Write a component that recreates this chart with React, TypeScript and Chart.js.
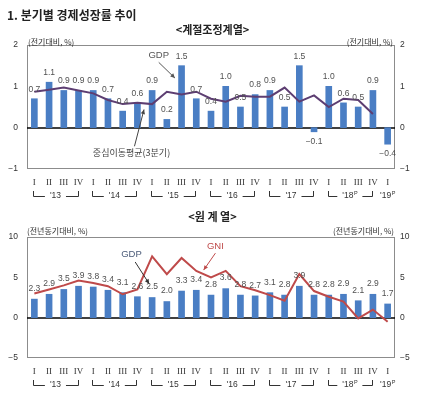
import React, { useEffect, useRef } from 'react';
import { Chart, registerables } from 'chart.js';
Chart.register(...registerables);

const quarterLabels = ['I','II','III','IV','I','II','III','IV','I','II','III','IV','I','II','III','IV','I','II','III','IV','I','II','III','IV','I'];
const yearLabels = ["'13", "'14", "'15", "'16", "'17", "'18", "'19"];
const yearSup = ['', '', '', '', '', 'P', 'P'];

// 계절조정계열 (전기대비, %)
const saGdp = [0.7, 1.1, 0.9, 0.9, 0.9, 0.7, 0.4, 0.6, 0.9, 0.2, 1.5, 0.7, 0.4, 1.0, 0.5, 0.8, 0.9, 0.5, 1.5, -0.1, 1.0, 0.6, 0.5, 0.9, -0.4];
const saMovingAvg = [0.87, 0.92, 0.97, 0.9, 0.83, 0.67, 0.57, 0.6, 0.57, 0.87, 0.8, 0.87, 0.7, 0.63, 0.77, 0.75, 0.75, 0.97, 0.63, 0.78, 0.5, 0.7, 0.67, 0.33, null];
// 원계열 (전년동기대비, %)
const yoyGdp = [2.3, 2.9, 3.5, 3.9, 3.8, 3.4, 3.1, 2.6, 2.5, 2.0, 3.3, 3.4, 2.8, 3.6, 2.8, 2.7, 3.1, 2.8, 3.9, 2.8, 2.8, 2.9, 2.1, 2.9, 1.7];
const yoyGni = [3.0, 3.5, 4.0, 4.6, 4.3, 3.9, 2.9, 3.5, 7.6, 5.4, 7.4, 5.8, 5.0, 5.8, 3.9, 3.4, 2.8, 2.1, 5.4, 3.3, 2.6, 2.0, -0.1, 1.0, -0.5];

const SANS = '"Liberation Sans", Arial, sans-serif';
const KR = '"Noto Sans CJK KR", sans-serif';
const fmt = (v: number) => v.toFixed(1).replace('-', '\u2212');

const framePlugin = {
  id: 'frame',
  beforeDatasetsDraw(chart: any) {
    const { ctx, chartArea: a, scales } = chart;
    ctx.save();
    ctx.strokeStyle = '#8c8c8c';
    ctx.lineWidth = 1;
    ctx.strokeRect(Math.round(a.left) + 0.5, Math.round(a.top) + 0.5, Math.round(a.width) - 1, Math.round(a.height) - 1);
    const y0 = Math.round(scales.y.getPixelForValue(0));
    ctx.strokeStyle = '#000';
    ctx.lineWidth = 1.3;
    ctx.beginPath();
    ctx.moveTo(a.left, y0);
    ctx.lineTo(a.right, y0);
    ctx.stroke();
    ctx.restore();
  },
};

const labelPlugin = {
  id: 'barLabels',
  afterDatasetsDraw(chart: any, _args: any, opts: any) {
    const { ctx } = chart;
    ctx.save();
    ctx.font = `8.5px ${SANS}`;
    ctx.fillStyle = '#505050';
    ctx.textAlign = 'center';
    ctx.textBaseline = 'middle';
    chart.data.datasets.forEach((ds: any, di: number) => {
      if (ds.type !== 'bar') return;
      const meta = chart.getDatasetMeta(di);
      meta.data.forEach((el: any, i: number) => {
        const v = ds.data[i];
        const y = v >= 0 ? el.y - opts.above : el.y + opts.below;
        ctx.fillText(fmt(v), el.x, y);
      });
    });
    ctx.restore();
  },
};

const yearPlugin = {
  id: 'years',
  afterDraw(chart: any, _args: any, opts: any) {
    const { ctx, scales } = chart;
    const x = scales.x;
    const yLine = opts.y;
    ctx.save();
    ctx.strokeStyle = '#333';
    ctx.fillStyle = '#333';
    ctx.lineWidth = 1;
    ctx.font = `8.5px ${SANS}`;
    ctx.textBaseline = 'middle';
    ctx.textAlign = 'center';
    yearLabels.forEach((lab, yi) => {
      const i0 = yi * 4;
      const i1 = Math.min(yi * 4 + 3, quarterLabels.length - 1);
      const xl = x.getPixelForValue(i0) - 1;
      const xr = x.getPixelForValue(i1) - 1;
      const cx = (xl + xr) / 2 + (i1 === i0 ? 1 : 0);
      const tw = ctx.measureText(lab).width + (yearSup[yi] ? 4 : 0);
      if (i1 > i0) {
        const gap = tw / 2 + 5;
        ctx.beginPath();
        ctx.moveTo(Math.round(xl) + 0.5, yLine - 5);
        ctx.lineTo(Math.round(xl) + 0.5, yLine + 0.5);
        ctx.lineTo(cx - gap, yLine + 0.5);
        ctx.moveTo(cx + gap, yLine + 0.5);
        ctx.lineTo(Math.round(xr) + 0.5, yLine + 0.5);
        ctx.lineTo(Math.round(xr) + 0.5, yLine - 5);
        ctx.stroke();
      }
      const tx = cx - (yearSup[yi] ? 2 : 0);
      ctx.font = `8.5px ${SANS}`;
      ctx.fillText(lab, tx, yLine);
      if (yearSup[yi]) {
        const w = ctx.measureText(lab).width;
        ctx.font = `5.5px ${SANS}`;
        ctx.textAlign = 'left';
        ctx.fillText(yearSup[yi], tx + w / 2 + 0.5, yLine - 3);
        ctx.textAlign = 'center';
      }
    });
    ctx.restore();
  },
};

function drawArrow(ctx: any, x1: number, y1: number, x2: number, y2: number, color: string, head: boolean) {
  ctx.strokeStyle = color;
  ctx.fillStyle = color;
  ctx.lineWidth = 1;
  ctx.beginPath();
  ctx.moveTo(x1, y1);
  ctx.lineTo(x2, y2);
  ctx.stroke();
  if (head) {
    const ang = Math.atan2(y2 - y1, x2 - x1);
    const L = 5;
    ctx.beginPath();
    ctx.moveTo(x2, y2);
    ctx.lineTo(x2 - L * Math.cos(ang - 0.45), y2 - L * Math.sin(ang - 0.45));
    ctx.lineTo(x2 - L * Math.cos(ang + 0.45), y2 - L * Math.sin(ang + 0.45));
    ctx.closePath();
    ctx.fill();
  }
}

const notePlugin = {
  id: 'notes',
  afterDatasetsDraw(chart: any, _args: any, opts: any) {
    const { ctx, scales } = chart;
    const px = (i: number) => scales.x.getPixelForValue(0) + i * (scales.x.getPixelForValue(1) - scales.x.getPixelForValue(0));
    const py = (v: number) => scales.y.getPixelForValue(v);
    ctx.save();
    (opts.items || []).forEach((n: any) => {
      ctx.font = `${n.size}px ${n.font}`;
      ctx.fillStyle = n.color;
      ctx.textAlign = 'center';
      ctx.textBaseline = 'middle';
      ctx.fillText(n.text, px(n.x), py(n.y));
      if (n.arrow) {
        const [a, b, c, d] = n.arrow;
        drawArrow(ctx, px(a), py(b), px(c), py(d), n.arrowColor || n.color, true);
      }
    });
    ctx.restore();
  },
};

function axisCommon(min: number, max: number, step: number, pos: 'left' | 'right', width: number, pad: number) {
  return {
    position: pos,
    min,
    max,
    grid: { display: false, drawTicks: false },
    border: { display: false },
    ticks: {
      stepSize: step,
      padding: pad,
      color: '#333',
      font: { family: SANS, size: 8.5 },
      callback: (v: any) => String(v).replace('-', '\u2212'),
    },
    afterFit: (s: any) => { s.width = width; },
  };
}

function xAxis(height: number) {
  return {
    grid: { display: false, drawTicks: false },
    border: { display: false },
    ticks: {
      padding: 8,
      color: '#333',
      autoSkip: false,
      maxRotation: 0,
      font: { family: '"Liberation Serif", serif', size: 9 },
    },
    afterFit: (s: any) => { s.height = height; },
  };
}

function TopChart() {
  const ref = useRef<HTMLCanvasElement>(null);
  useEffect(() => {
    const chart = new Chart(ref.current as HTMLCanvasElement, {
      type: 'bar',
      data: {
        labels: quarterLabels,
        datasets: [
          { type: 'line', data: saMovingAvg, borderColor: '#5D3E72', borderWidth: 2, pointRadius: 0, fill: false, order: 0, yAxisID: 'y' } as any,
          { type: 'bar', data: saGdp, backgroundColor: '#4A7EC4', barThickness: 6, order: 1, yAxisID: 'y' } as any,
        ],
      },
      options: {
        responsive: false,
        animation: false,
        layout: { padding: { top: 45, left: 0, right: 0, bottom: 0 } },
        plugins: {
          legend: { display: false },
          tooltip: { enabled: false },
          barLabels: { above: 9.5, below: 9.5 },
          years: { y: 196 },
          notes: {
            items: [
              { text: 'GDP', x: 8.45, y: 1.74, size: 9.5, font: SANS, color: '#555', arrow: [8.45, 1.58, 9.55, 1.2] },
              { text: '중심이동평균(3분기)', x: 6.6, y: -0.61, size: 9, font: KR, color: '#444', arrow: [6.8, -0.45, 7.45, 0.44] },
            ],
          },
        } as any,
        scales: {
          x: xAxis(31) as any,
          y: axisCommon(-1, 2, 1, 'left', 27, 9) as any,
          y1: axisCommon(-1, 2, 1, 'right', 26, 5) as any,
        },
      },
      plugins: [framePlugin, labelPlugin, yearPlugin, notePlugin],
    });
    return () => chart.destroy();
  }, []);
  return <canvas ref={ref} width={421} height={200} style={{ position: 'absolute', left: 0, top: 0, width: 421, height: 200 }} />;
}

function BottomChart() {
  const ref = useRef<HTMLCanvasElement>(null);
  useEffect(() => {
    const chart = new Chart(ref.current as HTMLCanvasElement, {
      type: 'bar',
      data: {
        labels: quarterLabels,
        datasets: [
          { type: 'line', data: yoyGni, borderColor: '#BF4A4A', borderWidth: 2, pointRadius: 0, fill: false, order: 0, yAxisID: 'y' } as any,
          { type: 'bar', data: yoyGdp, backgroundColor: '#4A7EC4', barThickness: 6, order: 1, yAxisID: 'y' } as any,
        ],
      },
      options: {
        responsive: false,
        animation: false,
        layout: { padding: { top: 37, left: 0, right: 0, bottom: 0 } },
        plugins: {
          legend: { display: false },
          tooltip: { enabled: false },
          barLabels: { above: 10.5, below: 10 },
          years: { y: 185 },
          notes: {
            items: [
              { text: 'GDP', x: 6.6, y: 7.8, size: 9.5, font: SANS, color: '#4A5A78', arrowColor: '#333', arrow: [6.85, 6.9, 7.8, 4.2] },
              { text: 'GNI', x: 12.3, y: 8.85, size: 9.5, font: SANS, color: '#BF4A4A', arrow: [12.3, 8.0, 11.5, 5.9] },
            ],
          },
        } as any,
        scales: {
          x: xAxis(40) as any,
          y: axisCommon(-5, 10, 5, 'left', 27, 9) as any,
          y1: axisCommon(-5, 10, 5, 'right', 26, 5) as any,
        },
      },
      plugins: [framePlugin, labelPlugin, yearPlugin, notePlugin],
    });
    return () => chart.destroy();
  }, []);
  return <canvas ref={ref} width={421} height={198} style={{ position: 'absolute', left: 0, top: 200, width: 421, height: 198 }} />;
}

const txt = (extra: React.CSSProperties): React.CSSProperties => ({
  position: 'absolute',
  whiteSpace: 'nowrap',
  fontFamily: KR,
  color: '#222',
  ...extra,
});

export default function App() {
  return (
    <div style={{ position: 'absolute', left: 0, top: 0, width: 421, height: 398, background: '#fff', overflow: 'hidden' }}>
      <TopChart />
      <BottomChart />
      <div style={txt({ left: 7, top: 7, fontSize: 12, lineHeight: '16px', fontWeight: 700 })}>1. 분기별 경제성장률 추이</div>
      <div style={txt({ left: 2, top: 22, width: 421, textAlign: 'center', fontSize: 11, lineHeight: '14px', fontWeight: 700 })}>&lt;계절조정계열&gt;</div>
      <div style={txt({ left: 28, top: 37, fontSize: 8, lineHeight: '10px', color: '#333' })}>(전기대비, %)</div>
      <div style={txt({ left: 0, top: 37, width: 393, textAlign: 'right', fontSize: 8, lineHeight: '10px', color: '#333' })}>(전기대비, %)</div>
      <div style={txt({ left: 2, top: 209, width: 421, textAlign: 'center', fontSize: 11, lineHeight: '14px', fontWeight: 700 })}>&lt;원 계 열&gt;</div>
      <div style={txt({ left: 27, top: 226, fontSize: 8, lineHeight: '10px', color: '#333' })}>(전년동기대비, %)</div>
      <div style={txt({ left: 0, top: 226, width: 394, textAlign: 'right', fontSize: 8, lineHeight: '10px', color: '#333' })}>(전년동기대비, %)</div>
    </div>
  );
}
